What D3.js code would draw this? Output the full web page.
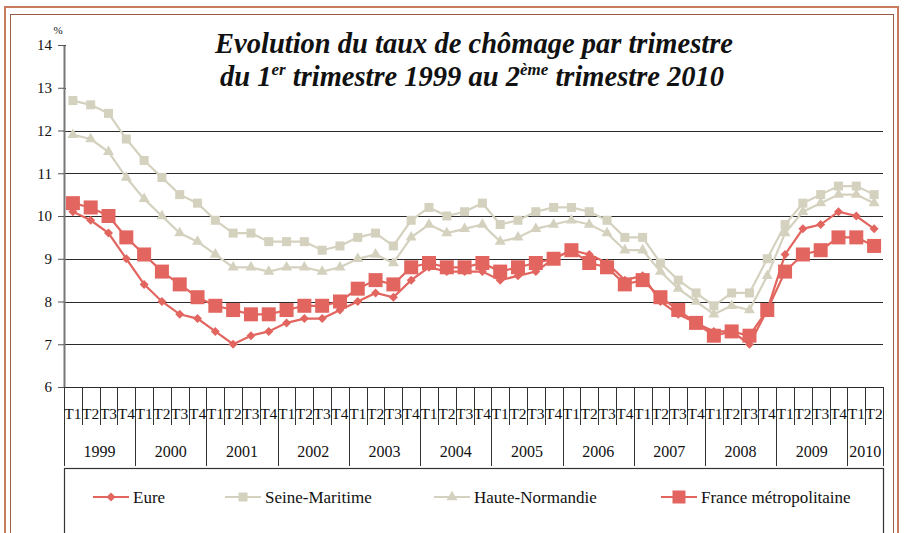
<!DOCTYPE html>
<html>
<head>
<meta charset="utf-8">
<script src="https://cdn.jsdelivr.net/npm/d3@7"></script>
<style>
  body { margin: 0; background: #fff; }
  svg text { font-family: "Liberation Serif", "DejaVu Serif", serif; fill: #111; }
</style>
</head>
<body>
<svg id="chart" width="904" height="533"></svg>
<script>
const years = ['1999', '2000', '2001', '2002', '2003', '2004', '2005', '2006', '2007', '2008', '2009', '2010'];
const quarters = ['T1', 'T2', 'T3', 'T4'];
const yTicks = [6, 7, 8, 9, 10, 11, 12, 13, 14];

const eure = [10.1, 9.9, 9.6, 9.0, 8.4, 8.0, 7.7, 7.6, 7.3, 7.0, 7.2, 7.3,
  7.5, 7.6, 7.6, 7.8, 8.0, 8.2, 8.1, 8.5, 8.8, 8.7, 8.7, 8.7,
  8.5, 8.6, 8.7, 9.0, 9.2, 9.1, 8.9, 8.5, 8.6, 8.0, 7.7, 7.5,
  7.3, 7.3, 7.0, 7.8, 9.1, 9.7, 9.8, 10.1, 10.0, 9.7];
const seineMaritime = [12.7, 12.6, 12.4, 11.8, 11.3, 10.9, 10.5, 10.3, 9.9, 9.6, 9.6, 9.4,
  9.4, 9.4, 9.2, 9.3, 9.5, 9.6, 9.3, 9.9, 10.2, 10.0, 10.1, 10.3,
  9.8, 9.9, 10.1, 10.2, 10.2, 10.1, 9.9, 9.5, 9.5, 8.9, 8.5, 8.2,
  7.9, 8.2, 8.2, 9.0, 9.8, 10.3, 10.5, 10.7, 10.7, 10.5];
const hauteNormandie = [11.9, 11.8, 11.5, 10.9, 10.4, 10.0, 9.6, 9.4, 9.1, 8.8, 8.8, 8.7,
  8.8, 8.8, 8.7, 8.8, 9.0, 9.1, 8.9, 9.5, 9.8, 9.6, 9.7, 9.8,
  9.4, 9.5, 9.7, 9.8, 9.9, 9.8, 9.6, 9.2, 9.2, 8.7, 8.3, 8.0,
  7.7, 7.9, 7.8, 8.6, 9.6, 10.1, 10.3, 10.5, 10.5, 10.3];
const france = [10.3, 10.2, 10.0, 9.5, 9.1, 8.7, 8.4, 8.1, 7.9, 7.8, 7.7, 7.7,
  7.8, 7.9, 7.9, 8.0, 8.3, 8.5, 8.4, 8.8, 8.9, 8.8, 8.8, 8.9,
  8.7, 8.8, 8.9, 9.0, 9.2, 8.9, 8.8, 8.4, 8.5, 8.1, 7.8, 7.5,
  7.2, 7.3, 7.2, 7.8, 8.7, 9.1, 9.2, 9.5, 9.5, 9.3];

const red = '#e2655f';
const beige = '#d5d1bf';
const serif = '"Liberation Serif", "DejaVu Serif", serif';

const series = [
  { name: 'Eure', values: eure, color: red, shape: 'diamond', size: 9 },
  { name: 'Seine-Maritime', values: seineMaritime, color: beige, shape: 'square', size: 9 },
  { name: 'Haute-Normandie', values: hauteNormandie, color: beige, shape: 'triangle', size: 11 },
  { name: 'France métropolitaine', values: france, color: red, shape: 'square', size: 14 }
];

// one entry per quarter, 1999 T1 .. 2010 T2
const periods = [];
years.forEach(yr => quarters.forEach(q => periods.push({ year: yr, q })));
periods.length = eure.length;

const svg = d3.select('#chart');
const plotLeft = 64, plotRight = 883, plotTop = 45, plotBottom = 387;

const x = d3.scaleBand().domain(d3.range(periods.length)).range([plotLeft, plotRight]);
const y = d3.scaleLinear().domain([6, 14]).range([plotBottom, plotTop]);

// frame
svg.append('rect')
  .attr('x', 5).attr('y', 7).attr('width', 893).attr('height', 540)
  .attr('fill', 'none').attr('stroke', '#c97c5d').attr('stroke-width', 2);
svg.append('rect')
  .attr('x', 10.5).attr('y', 14.5).attr('width', 883).attr('height', 530)
  .attr('fill', 'none').attr('stroke', '#9a5a44').attr('stroke-width', 1);

// gridlines
svg.append('g')
  .selectAll('line')
  .data(yTicks)
  .join('line')
  .attr('x1', plotLeft).attr('x2', plotRight)
  .attr('y1', d => Math.round(y(d)) + 0.5).attr('y2', d => Math.round(y(d)) + 0.5)
  .attr('stroke', '#2a2a2a').attr('stroke-width', 1.2);

// title box hides the top gridlines
svg.append('rect')
  .attr('x', plotLeft + 2).attr('y', 20).attr('width', plotRight - plotLeft).attr('height', 86)
  .attr('fill', '#fff');

// y axis
const yAxis = svg.append('g')
  .attr('transform', `translate(${plotLeft},0)`)
  .call(d3.axisLeft(y).tickValues(yTicks).tickSize(6).tickSizeOuter(0).tickPadding(6));
yAxis.select('.domain').attr('stroke', '#777').attr('stroke-width', 2);
yAxis.selectAll('.tick line').attr('stroke', '#555');
yAxis.selectAll('.tick text')
  .attr('font-family', serif).attr('font-size', 15).attr('fill', '#111');

svg.append('text')
  .attr('x', 58).attr('y', 34)
  .attr('text-anchor', 'middle').attr('font-size', 11).attr('font-family', serif)
  .text('%');

// title
const title = svg.append('text')
  .attr('text-anchor', 'middle').attr('font-family', serif)
  .attr('font-style', 'italic').attr('font-weight', 'bold').attr('font-size', 28.5);
title.append('tspan').attr('x', 474).attr('y', 53).text('Evolution du taux de chômage par trimestre');
const t2 = title.append('tspan').attr('x', 472).attr('y', 86);
t2.append('tspan').text('du 1');
t2.append('tspan').attr('font-size', 17).attr('dy', -11).text('er');
t2.append('tspan').attr('dy', 11).text(' trimestre 1999 au 2');
t2.append('tspan').attr('font-size', 17).attr('dy', -11).text('ème');
t2.append('tspan').attr('dy', 11).text(' trimestre 2010');

// x axis: quarter separators, year separators, labels
const bw = x.bandwidth();
const xAxis = svg.append('g');
xAxis.selectAll('line.q')
  .data(d3.range(periods.length + 1))
  .join('line')
  .attr('class', 'q')
  .attr('x1', i => Math.round(plotLeft + i * bw) + 0.5)
  .attr('x2', i => Math.round(plotLeft + i * bw) + 0.5)
  .attr('y1', plotBottom)
  .attr('y2', i => (i % 4 === 0 || i === periods.length) ? 466 : 425)
  .attr('stroke', '#333').attr('stroke-width', 1);

xAxis.selectAll('text.q')
  .data(periods)
  .join('text')
  .attr('class', 'q')
  .attr('x', (d, i) => x(i) + bw / 2)
  .attr('y', 419)
  .attr('text-anchor', 'middle').attr('font-size', 15.5).attr('font-family', serif)
  .text(d => d.q);

const yearSpans = years.map(yr => {
  const idx = periods.map((p, i) => p.year === yr ? i : -1).filter(i => i >= 0);
  return { year: yr, first: idx[0], last: idx[idx.length - 1] };
});
xAxis.selectAll('text.yr')
  .data(yearSpans)
  .join('text')
  .attr('class', 'yr')
  .attr('x', d => (x(d.first) + x(d.last) + bw) / 2)
  .attr('y', 457)
  .attr('text-anchor', 'middle').attr('font-size', 16).attr('font-family', serif)
  .text(d => d.year);

// marker shapes
function markerPath(shape, s) {
  const h = s / 2;
  if (shape === 'diamond') return `M0,${-h}L${h},0L0,${h}L${-h},0Z`;
  if (shape === 'square') return `M${-h},${-h}H${h}V${h}H${-h}Z`;
  const r = s / Math.sqrt(3);
  return `M0,${-r}L${h},${r / 2}L${-h},${r / 2}Z`;
}

const line = d3.line()
  .x((d, i) => x(i) + bw / 2)
  .y(d => y(d));

const plot = svg.append('g');
series.forEach(s => {
  const g = plot.append('g');
  g.append('path')
    .attr('d', line(s.values))
    .attr('fill', 'none').attr('stroke', s.color).attr('stroke-width', 2.2);
  g.selectAll('path.m')
    .data(s.values)
    .join('path')
    .attr('class', 'm')
    .attr('transform', (d, i) => `translate(${x(i) + bw / 2},${y(d)})`)
    .attr('d', markerPath(s.shape, s.size))
    .attr('fill', s.color);
});

// legend
svg.append('rect')
  .attr('x', plotLeft + 0.5).attr('y', 468.5).attr('width', plotRight - plotLeft).attr('height', 80)
  .attr('fill', '#fff').attr('stroke', '#333').attr('stroke-width', 1.2);

const legendX = [111, 243, 452, 679];
const legend = svg.append('g')
  .selectAll('g')
  .data(series)
  .join('g')
  .attr('transform', (d, i) => `translate(${legendX[i]},497)`);
legend.append('line')
  .attr('x1', -18).attr('x2', 18)
  .attr('stroke', d => d.color).attr('stroke-width', 2.2);
legend.append('path')
  .attr('d', d => markerPath(d.shape, d.shape === 'square' && d.size > 10 ? 13 : d.size))
  .attr('fill', d => d.color);
legend.append('text')
  .attr('x', 22).attr('y', 5.5)
  .attr('font-size', 17).attr('font-family', serif)
  .text(d => d.name);
</script>
</body>
</html>
